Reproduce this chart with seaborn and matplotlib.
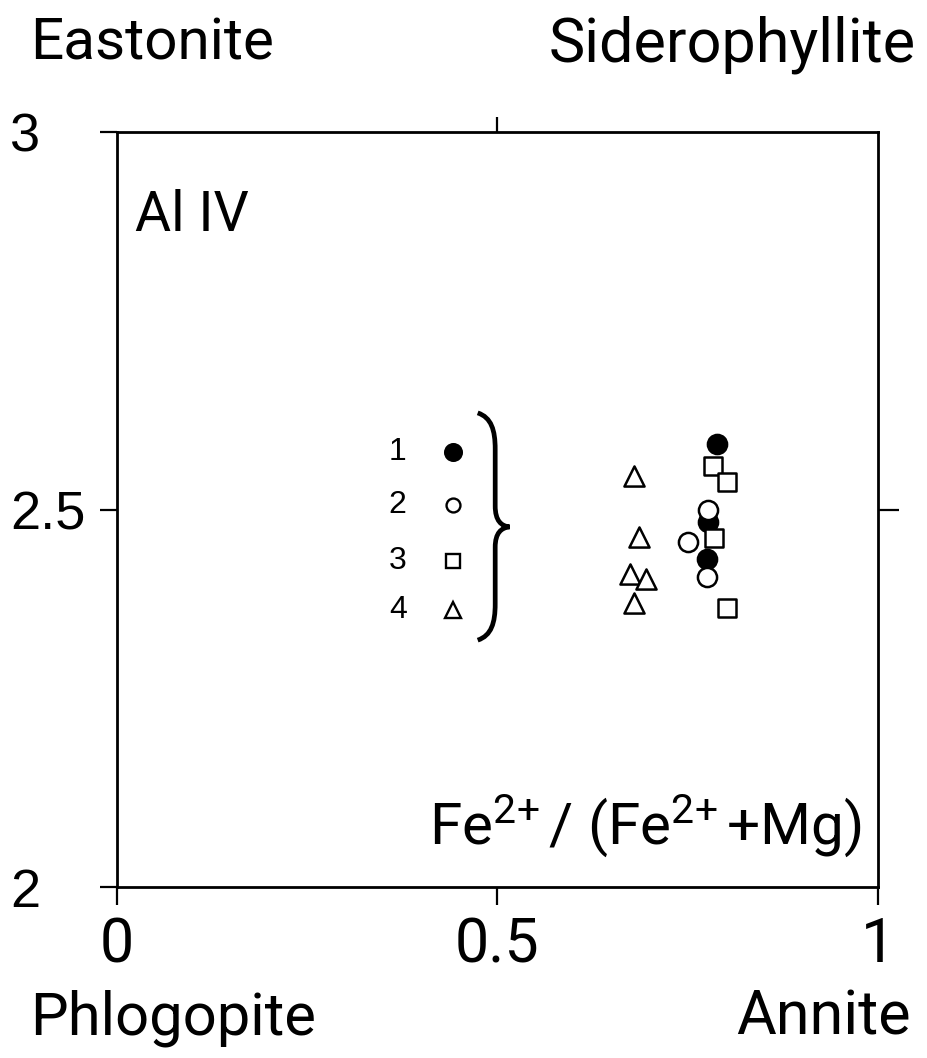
import matplotlib
matplotlib.use("Agg")
import matplotlib.pyplot as plt
import seaborn as sns
import pandas as pd
from matplotlib.path import Path
from matplotlib.patches import PathPatch

# Datos: Fe2+/(Fe2+ + Mg) vs Al IV
g1_x = [0.788, 0.777, 0.775]
g1_y = [2.587, 2.484, 2.435]
g2_x = [0.777, 0.751, 0.775]
g2_y = [2.500, 2.457, 2.411]
g3_x = [0.783, 0.801, 0.785]
g3_y = [2.558, 2.536, 2.462]
g3b_x = [0.801]
g3b_y = [2.370]
g4_x = [0.679, 0.686, 0.674, 0.695, 0.680]
g4_y = [2.544, 2.463, 2.415, 2.408, 2.376]

groups = ['1', '2', '3', '4']
legend_y = [2.576, 2.506, 2.432, 2.367]

x_ticks = [0, 0.5, 1]
x_ticklabels = ['0', '0.5', '1']
y_ticks = [2, 2.5, 3]
y_ticklabels = ['2', '2.5', '3']

sns.set_style("ticks", {'axes.edgecolor': 'black', 'text.color': 'black',
                        'xtick.color': 'black', 'ytick.color': 'black'})
narrow = ['Roboto', 'DejaVu Sans']
plt.rcParams['font.family'] = ['Liberation Sans', 'DejaVu Sans']
plt.rcParams['mathtext.fontset'] = 'custom'
plt.rcParams['mathtext.rm'] = 'Roboto'
plt.rcParams['mathtext.it'] = 'Roboto:italic'

df = pd.DataFrame({
    'x': g1_x + g2_x + g3_x + g3b_x + g4_x,
    'y': g1_y + g2_y + g3_y + g3b_y + g4_y,
    'grupo': ['1'] * len(g1_x) + ['2'] * len(g2_x) + ['3'] * (len(g3_x) + len(g3b_x)) + ['4'] * len(g4_x),
})

STYLE = {
    '1': dict(marker='o', s=190, facecolor='black'),
    '2': dict(marker='o', s=190, facecolor='white'),
    '3': dict(marker='s', s=170, facecolor='white'),
    '4': dict(marker='^', s=210, facecolor='white'),
}

fig = plt.figure(figsize=(9.27, 10.58), dpi=100)
ax = fig.add_axes([0.1262, 0.1616, 0.8209, 0.7136])

for g in groups:
    sub = df[df['grupo'] == g]
    st = STYLE[g]
    sns.scatterplot(data=sub, x='x', y='y', ax=ax, marker=st['marker'], s=st['s'],
                    color=st['facecolor'], edgecolor='black', linewidth=1.8,
                    legend=False, zorder=3)

# Leyenda manual (1-4) con llave
LEG_STYLE = {
    '1': dict(marker='o', ms=12, mfc='black'),
    '2': dict(marker='o', ms=10, mfc='white'),
    '3': dict(marker='s', ms=10, mfc='white'),
    '4': dict(marker='^', ms=12, mfc='white'),
}
for g, ly in zip(groups, legend_y):
    st = LEG_STYLE[g]
    ax.plot([0.4415], [ly], linestyle='none', marker=st['marker'], ms=st['ms'],
            mfc=st['mfc'], mec='black', mew=1.7)
    ax.text(0.369, ly, g, fontsize=23, ha='center', va='center')

verts = [
    (0.474, 2.628), (0.492, 2.622), (0.497, 2.605), (0.497, 2.58),
    (0.497, 2.505),
    (0.497, 2.485), (0.505, 2.478), (0.516, 2.477),
    (0.505, 2.476), (0.497, 2.469), (0.497, 2.45),
    (0.497, 2.375),
    (0.497, 2.35), (0.492, 2.333), (0.474, 2.327),
]
codes = [Path.MOVETO, Path.CURVE4, Path.CURVE4, Path.CURVE4, Path.LINETO,
         Path.CURVE4, Path.CURVE4, Path.CURVE4,
         Path.CURVE4, Path.CURVE4, Path.CURVE4, Path.LINETO,
         Path.CURVE4, Path.CURVE4, Path.CURVE4]
ax.add_patch(PathPatch(Path(verts, codes), facecolor='none', edgecolor='black', lw=3.4))

ax.text(0.024, 0.89, 'Al IV', transform=ax.transAxes, fontsize=40, va='center', ha='left',
        family=narrow)
ax.text(0.978, 0.082, r'Fe$^{2\!+}$/ (Fe$^{2\!+}$+Mg)', transform=ax.transAxes,
        fontsize=42, va='center', ha='right', family=narrow)

ax.set_xlim(0, 1)
ax.set_ylim(2, 3)
ax.set_xticks(x_ticks)
ax.set_xticklabels(x_ticklabels, fontsize=44, family=narrow)
ax.set_yticks(y_ticks)
ax.set_yticklabels(y_ticklabels, fontsize=39)
for lab in ax.get_yticklabels():
    lab.set_horizontalalignment('left')
ax.tick_params(axis='x', direction='out', length=13, width=1.6, pad=8)
ax.tick_params(axis='y', direction='out', length=12, width=1.6, pad=65)
ax.set_xlabel('')
ax.set_ylabel('')
for sp in ax.spines.values():
    sp.set_linewidth(2)
    sp.set_visible(True)

top = ax.secondary_xaxis('top')
top.set_xticks([0.5])
top.set_xticklabels([])
top.tick_params(direction='out', length=11, width=1.6)
top.spines['top'].set_visible(False)
right = ax.secondary_yaxis('right')
right.set_yticks([2.5])
right.set_yticklabels([])
right.tick_params(direction='out', length=15, width=1.6)
right.spines['right'].set_visible(False)

fig.text(0.032, 0.958, 'Eastonite', fontsize=42, ha='left', va='center', family=narrow)
fig.text(0.988, 0.958, 'Siderophyllite', fontsize=44, ha='right', va='center', family=narrow)
fig.text(0.032, 0.038, 'Phlogopite', fontsize=43, ha='left', va='center', family=narrow)
fig.text(0.982, 0.038, 'Annite', fontsize=44, ha='right', va='center', family=narrow)

fig.savefig('out.png', dpi=100, facecolor='white')
